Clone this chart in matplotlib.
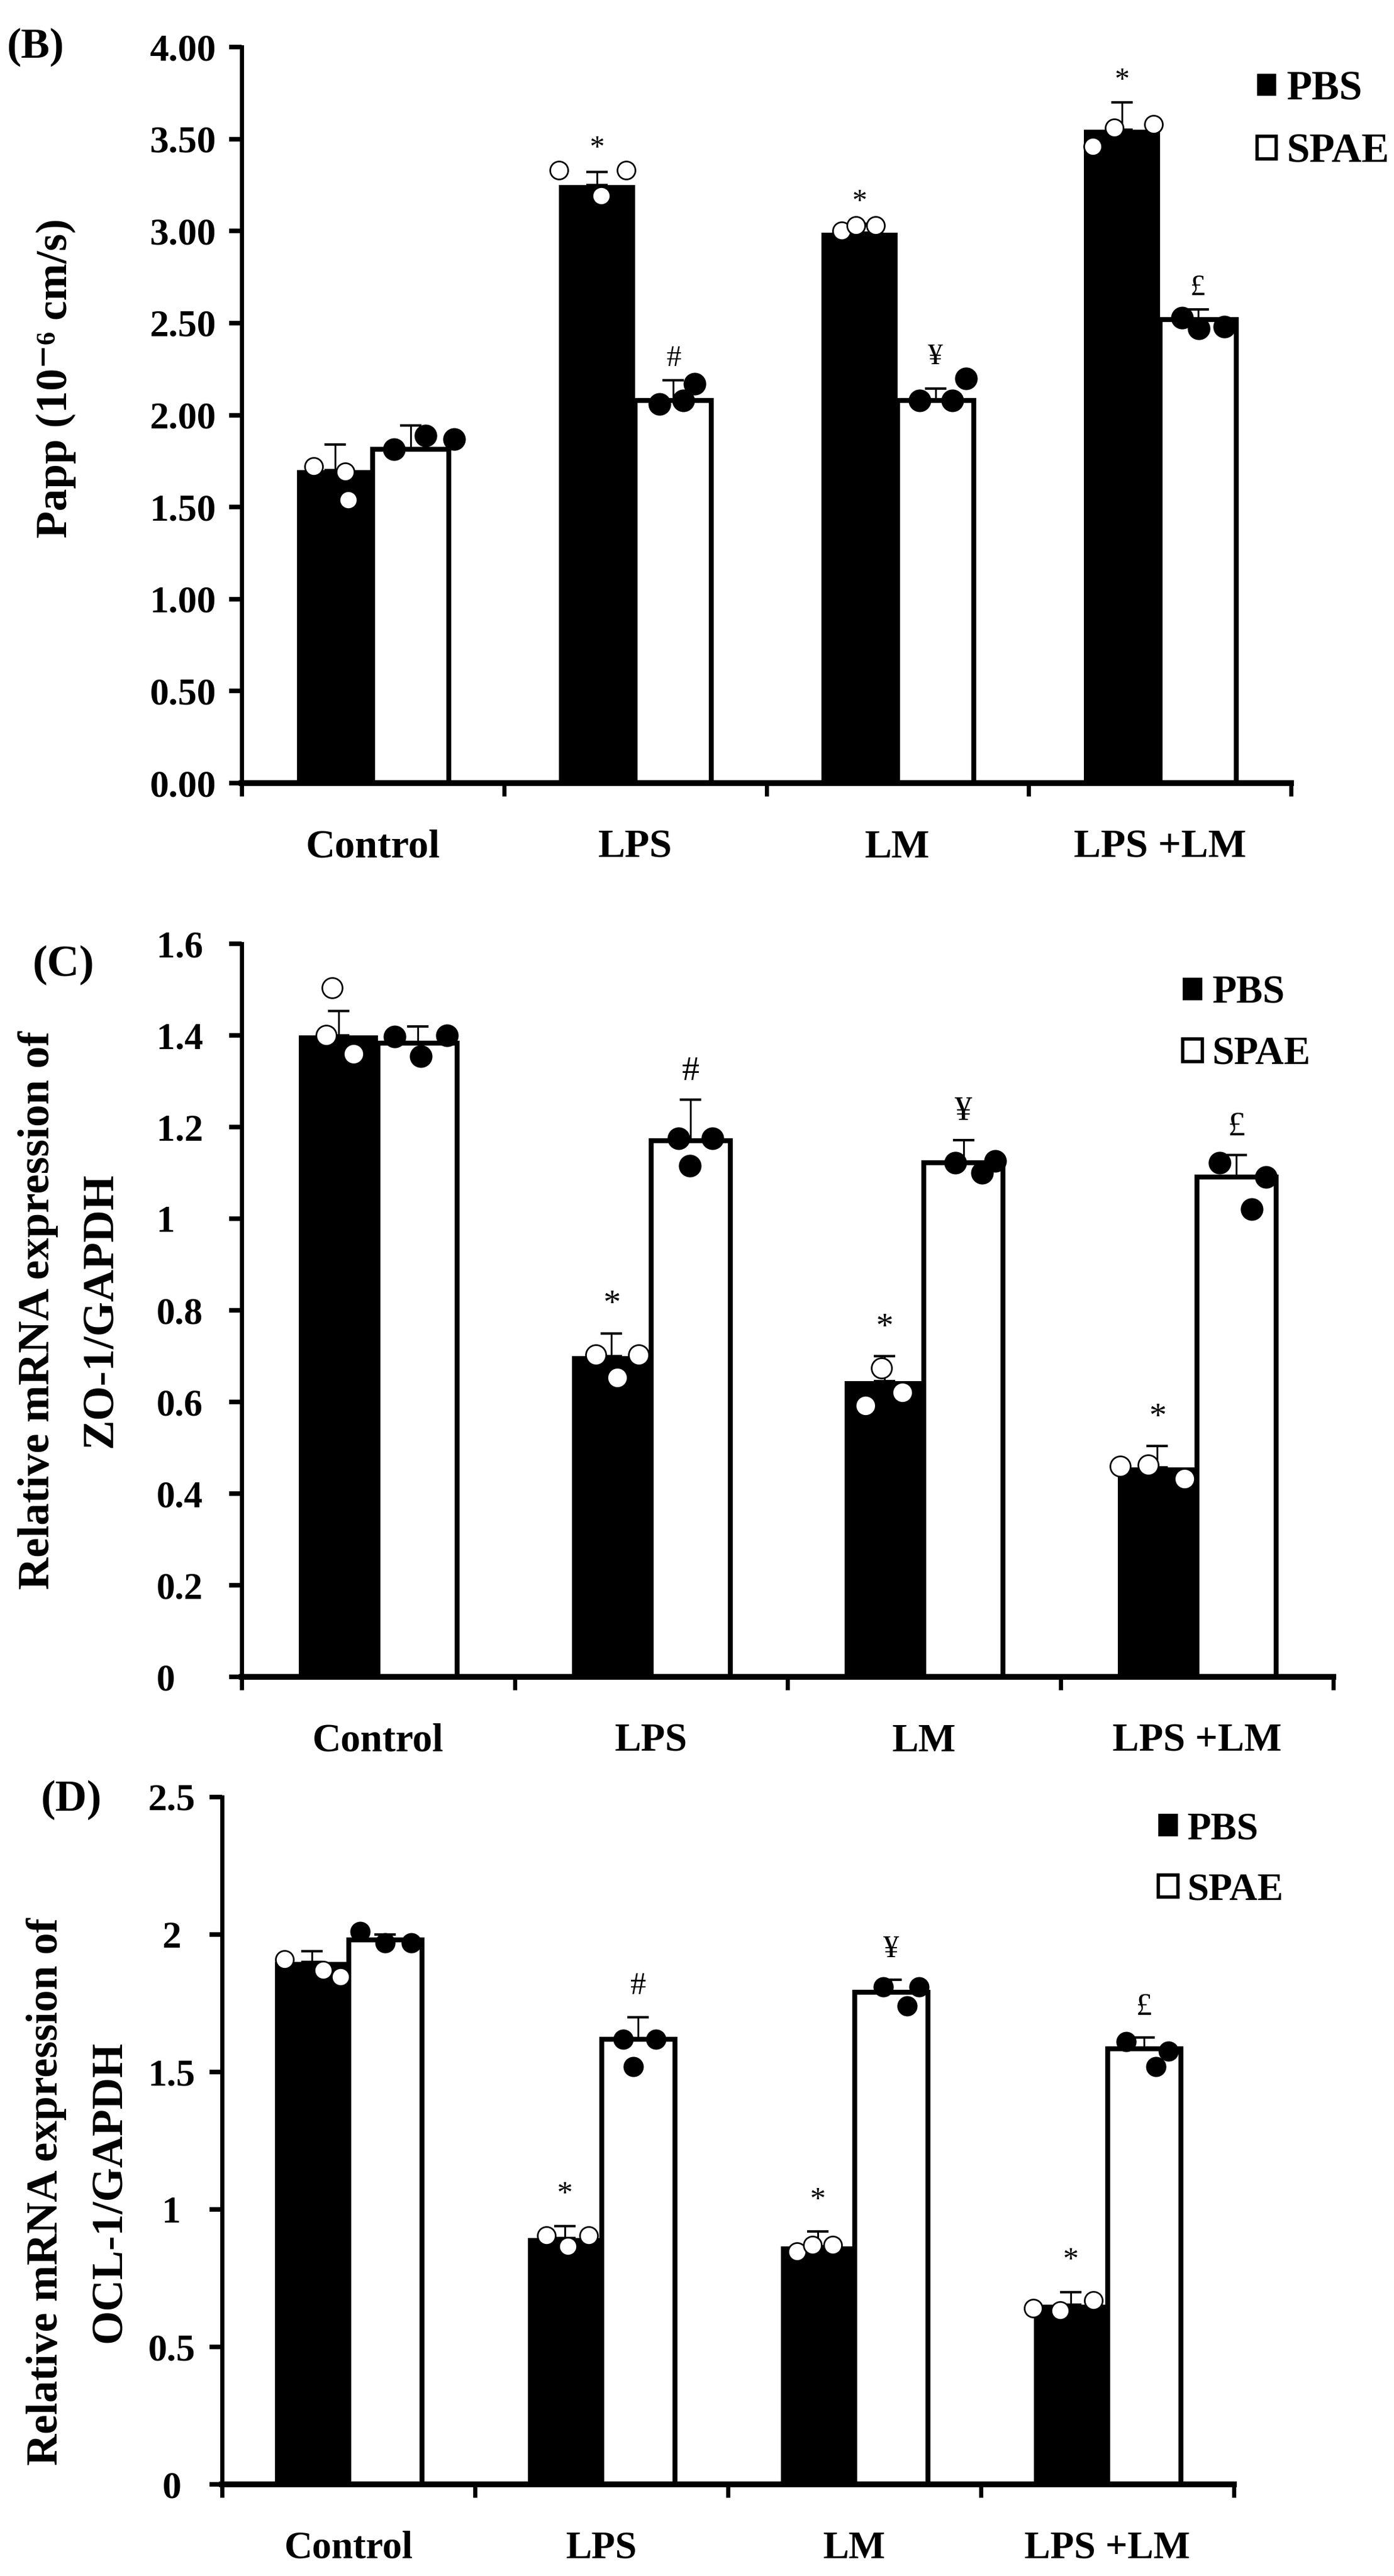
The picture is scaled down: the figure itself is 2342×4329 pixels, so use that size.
import numpy as np
import matplotlib
matplotlib.use("Agg")
import matplotlib.pyplot as plt
from matplotlib.patches import Patch

plt.rcParams['font.family'] = ['Liberation Serif', 'DejaVu Serif']
plt.rcParams['font.weight'] = 'bold'

groups = ["Control", "LPS", "LM", "LPS +LM"]
series = ["PBS", "SPAE"]
pbs_sig = ["", "*", "*", "*"]
spae_sig = ["", "#", "\u00a5", "\u00a3"]

# (B) Papp
papp_pbs = [1.70, 3.25, 2.99, 3.55]
papp_pbs_sd = [0.14, 0.07, 0.05, 0.15]
papp_spae = [1.815, 2.08, 2.08, 2.52]
papp_spae_sd = [0.13, 0.11, 0.065, 0.055]
papp_pbs_pts = [[1.72, 1.69, 1.54], [3.33, 3.33, 3.19], [3.00, 3.03, 3.03], [3.46, 3.56, 3.58]]
papp_pbs_jit = [[-0.08, 0.04, 0.05], [-0.145, 0.11, 0.015], [-0.068, -0.013, 0.062], [-0.11, -0.03, 0.12]]
papp_spae_pts = [[1.815, 1.887, 1.87], [2.06, 2.08, 2.17], [2.08, 2.08, 2.20], [2.53, 2.47, 2.48]]
papp_spae_jit = [[-0.065, 0.056, 0.165], [-0.052, 0.038, 0.081], [-0.06, 0.063, 0.115], [-0.06, 0.004, 0.10]]

# (C) ZO-1/GAPDH
zo1_pbs = [1.40, 0.70, 0.645, 0.457]
zo1_pbs_sd = [0.053, 0.05, 0.055, 0.047]
zo1_spae = [1.383, 1.17, 1.122, 1.091]
zo1_spae_sd = [0.037, 0.09, 0.05, 0.048]
zo1_pbs_pts = [[1.504, 1.40, 1.36], [0.703, 0.703, 0.653], [0.674, 0.592, 0.621], [0.46, 0.462, 0.432]]
zo1_pbs_jit = [[-0.024, -0.046, 0.054], [-0.057, 0.10, 0.022], [-0.011, -0.07, 0.065], [-0.137, -0.033, 0.10]]
zo1_spae_pts = [[1.397, 1.354, 1.40], [1.175, 1.116, 1.175], [1.122, 1.10, 1.126], [1.122, 1.021, 1.091]]
zo1_spae_jit = [[-0.085, 0.011, 0.107], [-0.044, -0.002, 0.081], [-0.03, 0.068, 0.115], [-0.061, 0.057, 0.109]]

# (D) OCL-1/GAPDH
ocl_pbs = [1.90, 0.896, 0.866, 0.653]
ocl_pbs_sd = [0.04, 0.044, 0.054, 0.047]
ocl_spae = [1.98, 1.62, 1.79, 1.585]
ocl_spae_sd = [0.02, 0.08, 0.045, 0.04]
ocl_pbs_pts = [[1.91, 1.87, 1.846], [0.905, 0.866, 0.905], [0.846, 0.87, 0.87], [0.64, 0.633, 0.668]]
ocl_pbs_jit = [[-0.108, 0.045, 0.113], [-0.073, 0.012, 0.094], [-0.082, -0.021, 0.059], [-0.148, -0.042, 0.089]]
ocl_spae_pts = [[2.01, 1.97, 1.97], [1.62, 1.52, 1.62], [1.81, 1.74, 1.81], [1.61, 1.52, 1.575]]
ocl_spae_jit = [[-0.099, 0.0, 0.104], [-0.059, -0.019, 0.071], [-0.031, 0.064, 0.111], [-0.071, 0.047, 0.096]]


def draw_panel(ax, pbs, pbs_sd, spae, spae_sd, pbs_pts, pbs_jit, spae_pts, spae_jit,
               yticks, ylabels, tick_fs, cat_fs, sig_fs, sig_off, open_s, fill_s):
    x = np.arange(len(groups)) + 0.5
    w = 0.29
    xb = x - w / 2
    xw = x + w / 2
    ax.bar(xb, pbs, w, color='black', linewidth=0, zorder=2)
    ax.bar(xw, spae, w, facecolor='white', edgecolor='black', linewidth=6, zorder=2)
    zeros = np.zeros(len(groups))
    for xs, m, sd in [(xb, pbs, pbs_sd), (xw, spae, spae_sd)]:
        ax.errorbar(xs, m, yerr=[zeros, sd], fmt='none', ecolor='black',
                    elinewidth=2.2, capsize=13, capthick=3, zorder=3)
    for i in range(len(groups)):
        ax.scatter(xb[i] + np.array(pbs_jit[i]), pbs_pts[i], s=open_s,
                   facecolor='white', edgecolor='black', linewidth=2, zorder=4)
        ax.scatter(xw[i] + np.array(spae_jit[i]), spae_pts[i], s=fill_s,
                   color='black', linewidth=0, zorder=4)
        # significance marks above the highest of error bar / points
        for xs, m, sd, pts, sig in [(xb, pbs, pbs_sd, pbs_pts, pbs_sig),
                                    (xw, spae, spae_sd, spae_pts, spae_sig)]:
            if sig[i]:
                top = max(m[i] + sd[i], max(pts[i]))
                ax.annotate(sig[i], (xs[i], top), xytext=(0, sig_off),
                            textcoords='offset points', ha='center', va='center',
                            fontsize=sig_fs, fontweight='normal', zorder=5)

    ax.set_xlim(0, len(groups))
    ax.set_ylim(0, yticks[-1])
    ax.set_xticks(np.arange(len(groups) + 1))
    ax.set_xticklabels([])
    ax.set_xticks(x, minor=True)
    ax.set_xticklabels(groups, minor=True, fontsize=cat_fs, fontweight='bold')
    ax.set_yticks(yticks)
    ax.set_yticklabels(ylabels, fontsize=tick_fs, fontweight='bold')
    for s in ['top', 'right']:
        ax.spines[s].set_visible(False)
    ax.spines['left'].set_linewidth(5)
    ax.spines['bottom'].set_linewidth(7)
    ax.spines['left'].set_zorder(6)
    ax.spines['bottom'].set_zorder(6)
    ax.tick_params(axis='x', which='major', direction='out', length=16, width=5)
    ax.tick_params(axis='x', which='minor', length=0, pad=56)
    ax.tick_params(axis='y', direction='out', length=15, width=5.5)


def add_legend(ax, fig, anchor, fs, hs, spacing):
    handles = [Patch(facecolor='black', edgecolor='black', linewidth=0),
               Patch(facecolor='white', edgecolor='black', linewidth=4)]
    ax.legend(handles, series, loc='upper left', bbox_to_anchor=anchor,
              bbox_transform=fig.transFigure, frameon=False,
              prop=dict(size=fs, weight='bold'), handlelength=hs, handleheight=hs,
              handletextpad=0.25, labelspacing=spacing, borderpad=0, borderaxespad=0)


fig = plt.figure(figsize=(23.42, 43.29), dpi=100)

# panel B
axB = fig.add_axes([0.1734, 0.6960, 0.7528, 0.28575])
draw_panel(axB, papp_pbs, papp_pbs_sd, papp_spae, papp_spae_sd,
           papp_pbs_pts, papp_pbs_jit, papp_spae_pts, papp_spae_jit,
           np.arange(0, 4.01, 0.5), ["%.2f" % v for v in np.arange(0, 4.01, 0.5)],
           46, 49, 36, 26, 470, 750)
axB.tick_params(axis='y', pad=16)
add_legend(axB, fig, (0.9018, 0.9727), 50, 0.46, 0.6)
fig.text(0.040, 0.8533, "Papp (10\u207b\u2076 cm/s)", rotation=90, ha='center', va='center',
         fontsize=54, fontweight='bold')
fig.text(0.0256, 0.9818, "(B)", ha='center', va='center', fontsize=52, fontweight='bold')

# panel C
axC = fig.add_axes([0.1734, 0.34904, 0.7831, 0.28459])
c_ticks = np.round(np.arange(0, 1.61, 0.2), 1)
draw_panel(axC, zo1_pbs, zo1_pbs_sd, zo1_spae, zo1_spae_sd,
           zo1_pbs_pts, zo1_pbs_jit, zo1_spae_pts, zo1_spae_jit,
           c_ticks, ["%g" % v for v in c_ticks],
           45, 48, 42, 34, 600, 750)
axC.tick_params(axis='y', pad=88)
for lab in axC.get_yticklabels():
    lab.set_horizontalalignment('left')
add_legend(axC, fig, (0.8484, 0.6214), 48, 0.5, 0.62)
fig.text(0.050, 0.4913, "Relative mRNA expression of\nZO-1/GAPDH", rotation=90,
         ha='center', va='center', multialignment='center', linespacing=1.72,
         fontsize=54, fontweight='bold')
fig.text(0.0457, 0.6253, "(C)", ha='center', va='center', fontsize=54, fontweight='bold')

# panel D
axD = fig.add_axes([0.15927, 0.03557, 0.72588, 0.26681])
d_ticks = np.arange(0, 2.51, 0.5)
draw_panel(axD, ocl_pbs, ocl_pbs_sd, ocl_spae, ocl_spae_sd,
           ocl_pbs_pts, ocl_pbs_jit, ocl_spae_pts, ocl_spae_jit,
           d_ticks, ["%g" % v for v in d_ticks],
           46, 47, 38, 37, 470, 600)
axD.tick_params(axis='y', pad=46)
for lab in axD.get_yticklabels():
    lab.set_horizontalalignment('center')
add_legend(axD, fig, (0.8309, 0.2968), 47, 0.5, 0.65)
fig.text(0.056, 0.1492, "Relative mRNA expression of\nOCL-1/GAPDH", rotation=90,
         ha='center', va='center', multialignment='center', linespacing=1.74,
         fontsize=53, fontweight='bold')
fig.text(0.0512, 0.3012, "(D)", ha='center', va='center', fontsize=53, fontweight='bold')

fig.savefig("out.png", dpi=100)
